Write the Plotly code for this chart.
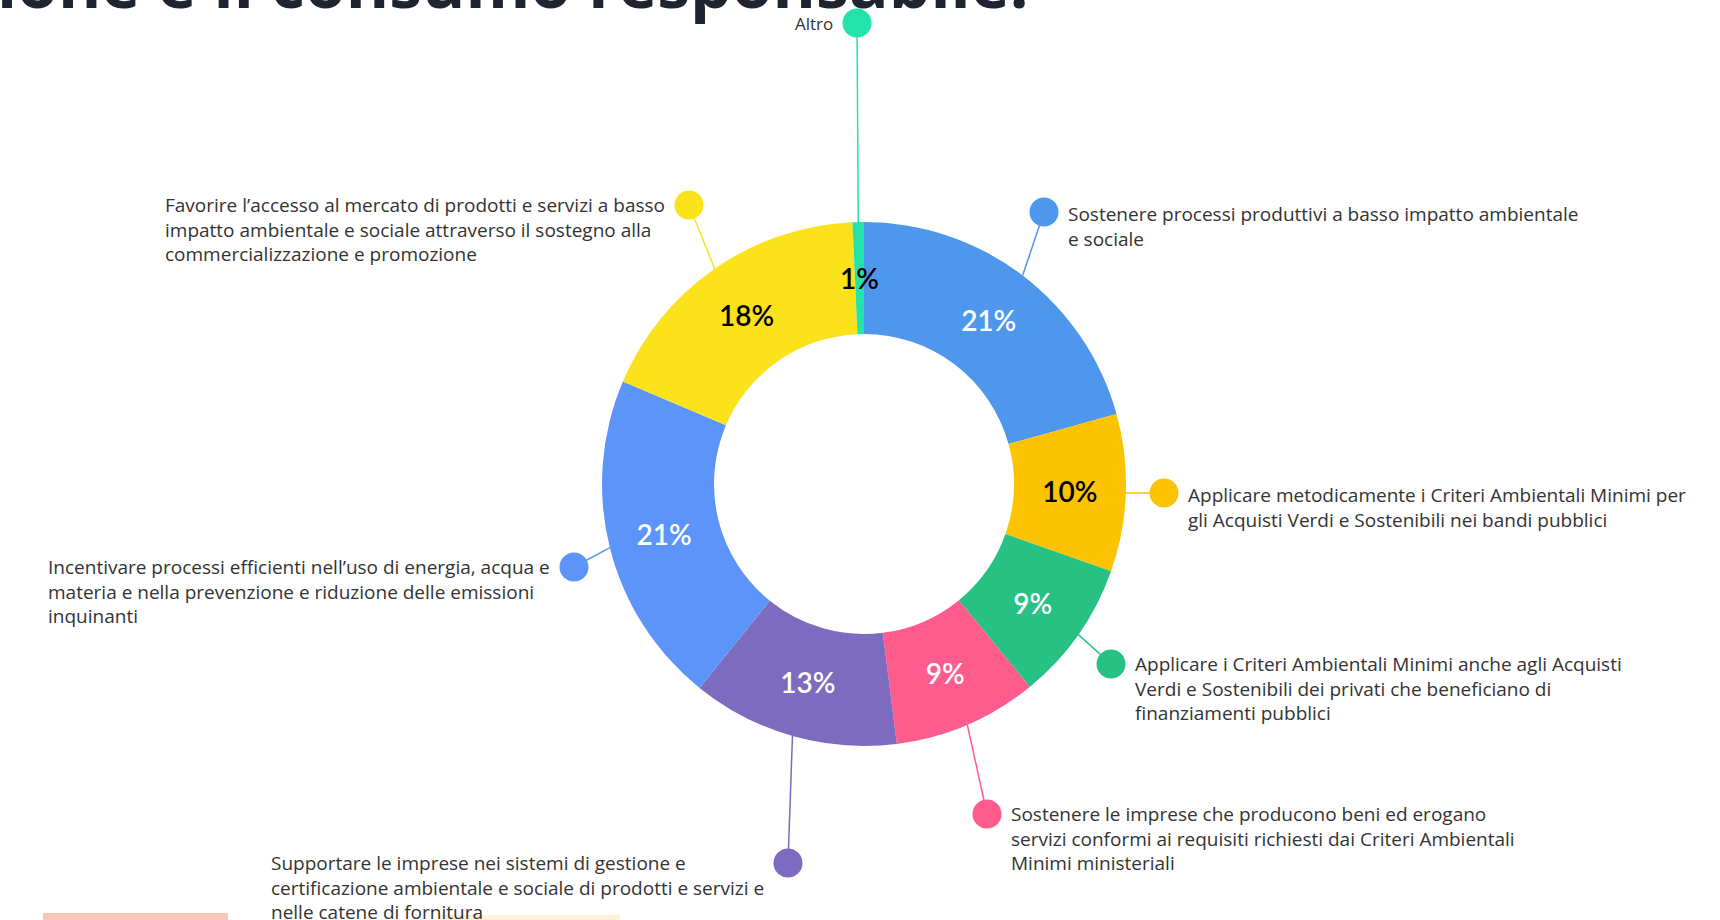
import math
import plotly.graph_objects as go

W, H = 1720, 920

# ---------------- data ----------------
categories = [
    "Sostenere processi produttivi",
    "Applicare metodicamente i CAM",
    "Applicare i CAM ai privati",
    "Sostenere le imprese conformi ai CAM",
    "Supportare le imprese nei sistemi di gestione",
    "Incentivare processi efficienti",
    "Favorire l'accesso al mercato",
    "Altro",
]
legend_lines = [
    ["Sostenere processi produttivi a basso impatto ambientale", "e sociale"],
    ["Applicare metodicamente i Criteri Ambientali Minimi per",
     "gli Acquisti Verdi e Sostenibili nei bandi pubblici"],
    ["Applicare i Criteri Ambientali Minimi anche agli Acquisti",
     "Verdi e Sostenibili dei privati che beneficiano di", "finanziamenti pubblici"],
    ["Sostenere le imprese che producono beni ed erogano",
     "servizi conformi ai requisiti richiesti dai Criteri Ambientali", "Minimi ministeriali"],
    ["Supportare le imprese nei sistemi di gestione e",
     "certificazione ambientale e sociale di prodotti e servizi e", "nelle catene di fornitura"],
    ["Incentivare processi efficienti nell’uso di energia, acqua e",
     "materia e nella prevenzione e riduzione delle emissioni", "inquinanti"],
    ["Favorire l’accesso al mercato di prodotti e servizi a basso",
     "impatto ambientale e sociale attraverso il sostegno alla", "commercializzazione e promozione"],
    ["Altro"],
]
values = [20.7, 9.7, 8.7, 8.9, 12.8, 20.6, 17.9, 0.7]
title_text = "produzione e il consumo responsabile."

# ---------------- style ----------------
colors = ["#4F97EC", "#FCC300", "#27C283", "#FF5B8D", "#7C6BBE", "#5C94F9", "#FCE21A", "#22E3A9"]
text_colors = ["white", "black", "white", "white", "white", "white", "black", "black"]
FONT = "Open Sans"
PFONT = "Lato"
LABEL_SIZE = 19

# layout geometry (pixels)
cx, cy = 864, 484
R_out, R_in = 262, 150
# label anchor dots (pixels) and side of text
dots = [(1044, 212), (1164, 493), (1111, 664), (987, 814),
        (788, 863), (574, 567), (689, 205), (857, 23)]
sides = ["r", "r", "r", "r", "l", "l", "l", "l"]


def px(x):
    return x / W


def py(y):
    return 1 - y / H


fig = go.Figure()

fig.add_trace(go.Pie(
    labels=categories,
    values=values,
    sort=False,
    direction="clockwise",
    rotation=0,
    hole=R_in / R_out,
    marker=dict(colors=colors, line=dict(width=0)),
    texttemplate="%{percent:.0%}",
    textposition=["inside"] * (len(values) - 1) + ["none"],
    insidetextorientation="horizontal",
    insidetextfont=dict(family=PFONT, size=28, color=text_colors, weight=600),
    showlegend=False,
    hoverinfo="label+percent",
    domain=dict(x=[px(cx - R_out), px(cx + R_out)],
                y=[py(cy + R_out), py(cy - R_out)]),
))

total = sum(values)
shapes = []
annotations = []
cum = 0.0
for i, v in enumerate(values):
    mid = (cum + v / 2) / total * 2 * math.pi
    cum += v
    sx = cx + R_out * math.sin(mid)
    sy = cy - R_out * math.cos(mid)
    dx, dy = dots[i]
    shapes.append(dict(type="line", xref="paper", yref="paper",
                       x0=px(sx), y0=py(sy), x1=px(dx), y1=py(dy),
                       line=dict(color=colors[i], width=1.5), layer="below"))
    rr = 14.5
    shapes.append(dict(type="circle", xref="paper", yref="paper",
                       x0=px(dx - rr), x1=px(dx + rr), y0=py(dy + rr), y1=py(dy - rr),
                       fillcolor=colors[i], line=dict(width=0)))
    lines = legend_lines[i]
    if len(lines) == 1:
        annotations.append(dict(x=px(dx - 22), y=py(dy + 1), xref="paper", yref="paper",
                                xanchor="right", yanchor="middle",
                                text=lines[0], showarrow=False,
                                font=dict(family=FONT, size=17, color="#333333")))
        continue
    top_off = 13 if len(lines) == 2 else 15
    if sides[i] == "r":
        annotations.append(dict(x=px(dx + 22), y=py(dy - top_off), xref="paper", yref="paper",
                                xanchor="left", yanchor="top", align="left",
                                text="<br>".join(lines), showarrow=False,
                                font=dict(family=FONT, size=LABEL_SIZE, color="#333333")))
    else:
        annotations.append(dict(x=px(dx - 22), y=py(dy - top_off), xref="paper", yref="paper",
                                xanchor="right", yanchor="top", align="left",
                                text="<br>".join(lines), showarrow=False,
                                font=dict(family=FONT, size=LABEL_SIZE, color="#333333")))

# percentage of the tiny last slice, drawn at its mid angle on the ring
last_mid = (total - values[-1] / 2) / total * 2 * math.pi
r_mid = (R_out + R_in) / 2
annotations.append(dict(x=px(cx + r_mid * math.sin(last_mid)), y=py(cy - r_mid * math.cos(last_mid)),
                        xref="paper", yref="paper", xanchor="center", yanchor="middle",
                        text=f"{round(values[-1] / total * 100)}%", showarrow=False,
                        font=dict(family=PFONT, size=28, color="black", weight=600)))

# cut-off slide title at the top
annotations.append(dict(x=px(1031), y=py(29), xref="paper", yref="paper",
                        xanchor="right", yanchor="bottom", text=title_text, showarrow=False,
                        font=dict(family=FONT, size=66, color="#1E2430", weight=700)))

# decorative slide blocks at the bottom edge
shapes.append(dict(type="rect", xref="paper", yref="paper", x0=px(43), x1=px(228), y0=py(920), y1=py(913),
                   fillcolor="#F8C7B9", line=dict(width=0), layer="below"))
shapes.append(dict(type="rect", xref="paper", yref="paper", x0=px(440), x1=px(620), y0=py(920), y1=py(915),
                   fillcolor="#FDF1D6", line=dict(width=0), layer="below"))

fig.update_layout(
    width=W, height=H,
    margin=dict(l=0, r=0, t=0, b=0),
    paper_bgcolor="white", plot_bgcolor="white",
    shapes=shapes, annotations=annotations,
    showlegend=False,
)

fig.write_html("out.html", config={"displayModeBar": False},
               post_script="document.body.style.margin='0';document.body.style.overflow='hidden';")
